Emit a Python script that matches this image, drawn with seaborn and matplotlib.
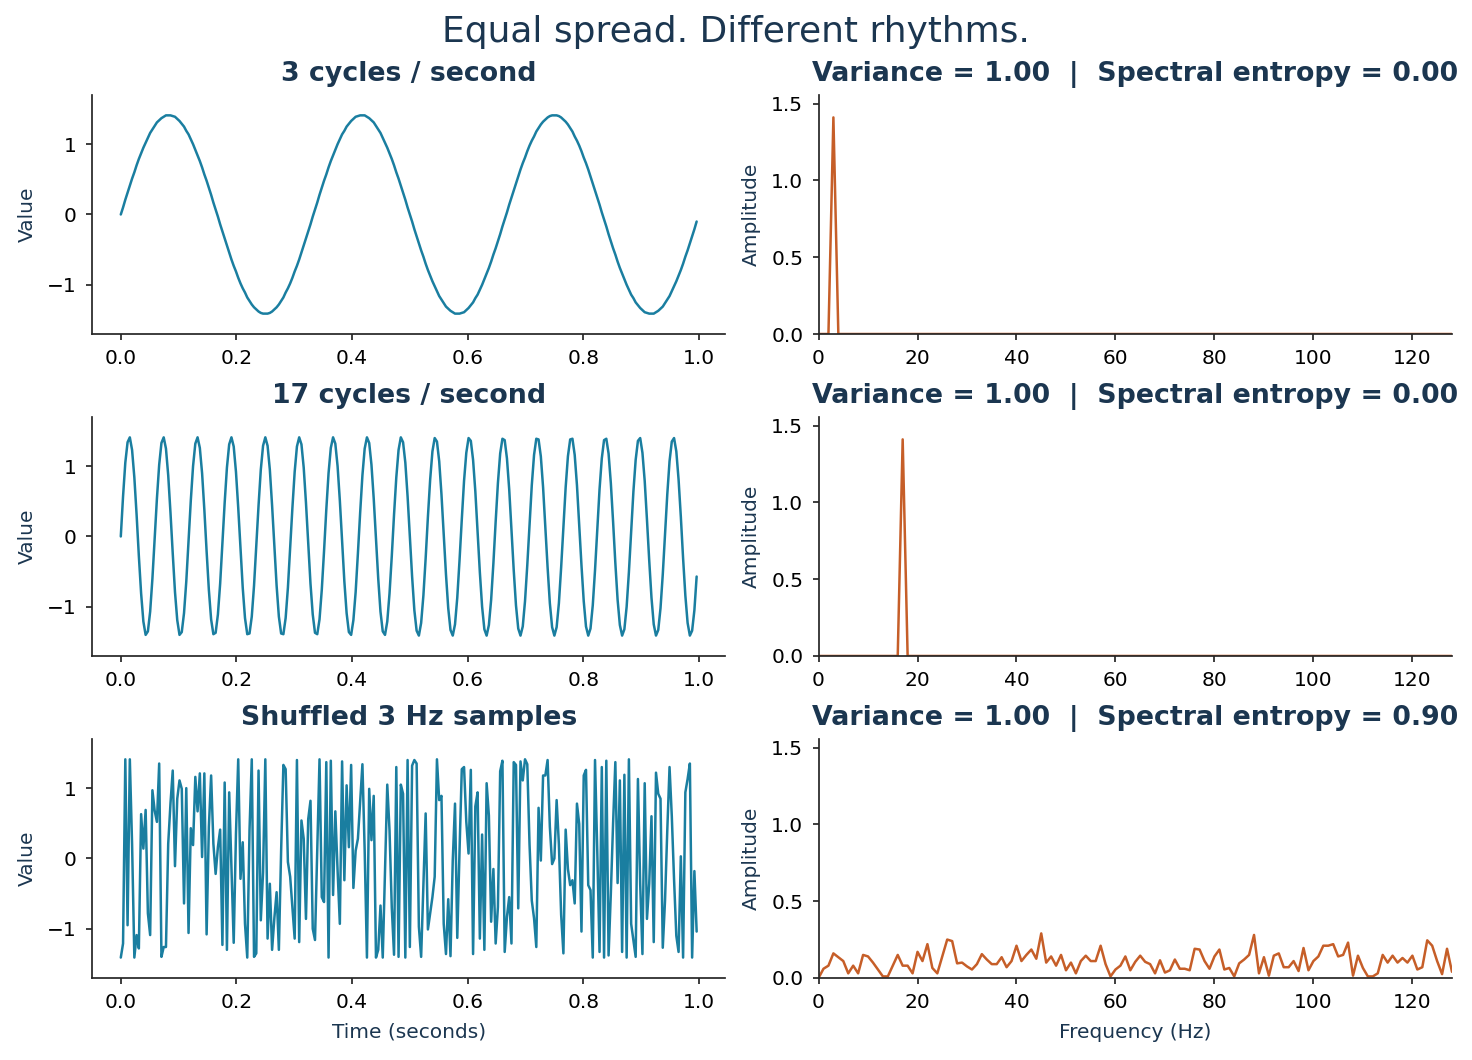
import numpy as np
import pandas as pd
import matplotlib
matplotlib.use("Agg")
import matplotlib.pyplot as plt
import seaborn as sns

# sampling: 256 samples over one second
sample_rate = 256

# 3 Hz sine, amplitude sqrt(2) (variance 1)
wave_3hz = [
    0.00, 0.10, 0.21, 0.31, 0.41, 0.51, 0.60, 0.70, 0.79, 0.87, 0.95, 1.02, 1.09, 1.16, 1.21, 1.26,
    1.31, 1.34, 1.37, 1.39, 1.41, 1.41, 1.41, 1.40, 1.39, 1.36, 1.33, 1.29, 1.25, 1.19, 1.14, 1.07,
    1.00, 0.92, 0.84, 0.76, 0.67, 0.57, 0.48, 0.38, 0.28, 0.17, 0.07, -0.03, -0.14, -0.24, -0.34, -0.44,
    -0.54, -0.64, -0.73, -0.81, -0.90, -0.98, -1.05, -1.11, -1.18, -1.23, -1.28, -1.32, -1.35, -1.38, -1.40, -1.41,
    -1.41, -1.41, -1.40, -1.38, -1.35, -1.32, -1.28, -1.23, -1.18, -1.11, -1.05, -0.98, -0.90, -0.81, -0.73, -0.64,
    -0.54, -0.44, -0.34, -0.24, -0.14, -0.03,
    0.07, 0.17, 0.28, 0.38, 0.48, 0.57, 0.67, 0.76, 0.84, 0.92, 1.00, 1.07, 1.14, 1.19, 1.25, 1.29,
    1.33, 1.36, 1.39, 1.40, 1.41, 1.41, 1.41, 1.39, 1.37, 1.34, 1.31, 1.26, 1.21, 1.16, 1.09, 1.02,
    0.95, 0.87, 0.79, 0.70, 0.60, 0.51, 0.41, 0.31, 0.21, 0.10, 0.00, -0.10, -0.21, -0.31, -0.41, -0.51,
    -0.60, -0.70, -0.79, -0.87, -0.95, -1.02, -1.09, -1.16, -1.21, -1.26, -1.31, -1.34, -1.37, -1.39, -1.41, -1.41,
    -1.41, -1.40, -1.39, -1.36, -1.33, -1.29, -1.25, -1.19, -1.14, -1.07, -1.00, -0.92, -0.84, -0.76, -0.67, -0.57,
    -0.48, -0.38, -0.28, -0.17, -0.07,
    0.03, 0.14, 0.24, 0.34, 0.44, 0.54, 0.64, 0.73, 0.81, 0.90, 0.98, 1.05, 1.11, 1.18, 1.23, 1.28,
    1.32, 1.35, 1.38, 1.40, 1.41, 1.41, 1.41, 1.40, 1.38, 1.35, 1.32, 1.28, 1.23, 1.18, 1.11, 1.05,
    0.98, 0.90, 0.81, 0.73, 0.64, 0.54, 0.44, 0.34, 0.24, 0.14, 0.03, -0.07, -0.17, -0.28, -0.38, -0.48,
    -0.57, -0.67, -0.76, -0.84, -0.92, -1.00, -1.07, -1.14, -1.19, -1.25, -1.29, -1.33, -1.36, -1.39, -1.40, -1.41,
    -1.41, -1.41, -1.39, -1.37, -1.34, -1.31, -1.26, -1.21, -1.16, -1.09, -1.02, -0.95, -0.87, -0.79, -0.70, -0.60,
    -0.51, -0.41, -0.31, -0.21, -0.10,
]

# 17 Hz sine, same amplitude
wave_17hz = [
    0.00, 0.57, 1.05, 1.34, 1.41, 1.23, 0.84, 0.31, -0.28, -0.81, -1.21, -1.40, -1.35, -1.07, -0.60,
    -0.03, 0.54, 1.02, 1.33, 1.41, 1.25, 0.87, 0.34, -0.24, -0.79, -1.19, -1.40, -1.36, -1.09, -0.64,
    -0.07, 0.51, 1.00, 1.32, 1.41, 1.26, 0.90, 0.38, -0.21, -0.76, -1.18, -1.39, -1.37, -1.11, -0.67,
    -0.10, 0.48, 0.98, 1.31, 1.41, 1.28, 0.92, 0.41, -0.17, -0.73, -1.16, -1.39, -1.38, -1.14, -0.70,
    -0.14, 0.44, 0.95, 1.29, 1.41, 1.29, 0.95, 0.44, -0.14, -0.70, -1.14, -1.38, -1.39, -1.16, -0.73,
    -0.17, 0.41, 0.92, 1.28, 1.41, 1.31, 0.98, 0.48, -0.10, -0.67, -1.11, -1.37, -1.39, -1.18, -0.76,
    -0.21, 0.38, 0.90, 1.26, 1.41, 1.32, 1.00, 0.51, -0.07, -0.64, -1.09, -1.36, -1.40, -1.19, -0.79,
    -0.24, 0.34, 0.87, 1.25, 1.41, 1.33, 1.02, 0.54, -0.03, -0.60, -1.07, -1.35, -1.40, -1.21, -0.81,
    -0.28, 0.31, 0.84, 1.23, 1.41, 1.34, 1.05, 0.57, 0.00, -0.57, -1.05, -1.34, -1.41, -1.23, -0.84,
    -0.31, 0.28, 0.81, 1.21, 1.40, 1.35, 1.07, 0.60, 0.03, -0.54, -1.02, -1.33, -1.41, -1.25, -0.87,
    -0.34, 0.24, 0.79, 1.19, 1.40, 1.36, 1.09, 0.64, 0.07, -0.51, -1.00, -1.32, -1.41, -1.26, -0.90,
    -0.38, 0.21, 0.76, 1.18, 1.39, 1.37, 1.11, 0.67, 0.10, -0.48, -0.98, -1.31, -1.41, -1.28, -0.92,
    -0.41, 0.17, 0.73, 1.16, 1.39, 1.38, 1.14, 0.70, 0.14, -0.44, -0.95, -1.29, -1.41, -1.29, -0.95,
    -0.44, 0.14, 0.70, 1.14, 1.38, 1.39, 1.16, 0.73, 0.17, -0.41, -0.92, -1.28, -1.41, -1.31, -0.98,
    -0.48, 0.10, 0.67, 1.11, 1.37, 1.39, 1.18, 0.76, 0.21, -0.38, -0.90, -1.26, -1.41, -1.32, -1.00,
    -0.51, 0.07, 0.64, 1.09, 1.36, 1.40, 1.19, 0.79, 0.24, -0.34, -0.87, -1.25, -1.41, -1.33, -1.02,
    -0.54, 0.03, 0.60, 1.07, 1.35, 1.40, 1.21, 0.81, 0.28, -0.31, -0.84, -1.23, -1.41, -1.34, -1.05,
    -0.57,
]

# the 3 Hz samples in shuffled order
wave_shuffled = [
    -1.41, -1.21, 1.41, -0.95, 1.41, 0.20, -1.41, -1.09, -1.28, 0.63, 0.14, 0.69, -0.78, -1.09, 0.97, 0.68,
    0.52, 1.35, -1.40, -1.26, -1.26, 0.21, 0.78, 1.25, -0.11, 0.85, 1.11, 0.99, -0.64, 1.00, -1.06, 0.43,
    0.19, 1.16, 0.67, 1.21, 0.02, 1.21, -1.08, 0.45, 1.18, 0.21, -0.22, 0.16, 0.41, -1.23, 1.08, -1.30,
    0.94, -0.12, -1.20, 0.35, 1.41, -0.29, 0.23, -0.93, -1.41, 0.40, 1.41, -1.40, -1.35, 1.25, -0.88, -0.20,
    1.41, -1.14, -0.36, -1.30, -0.85, -0.48, -1.30, 0.11, 1.33, 1.27, -0.05, -0.26, -0.69, -1.14, 1.40, -1.19,
    0.54, 0.28, -0.86, 0.56, 0.82, -1.00, -1.16, 0.11, 1.41, -0.55, -0.62, 1.37, -1.41, 1.39, -0.52, 0.67,
    -0.17, -0.93, 1.38, -0.31, 1.04, 0.16, 1.33, -0.42, 0.11, 0.28, 0.82, 1.34, 0.11, -1.41, 0.99, 0.26,
    0.89, -1.41, -1.30, -0.67, -1.41, -0.17, 1.05, 0.40, -0.70, -1.37, 1.30, -1.40, 1.05, 0.92, -1.41, 1.40,
    -1.26, 1.32, 1.40, 1.35, -0.97, -1.40, -0.36, 0.64, -1.01, -0.78, -0.55, -0.26, 1.41, 0.83, 0.89, -0.93,
    -1.36, -0.58, -1.39, -0.03, 0.78, -1.13, 0.11, 1.27, 1.30, 0.52, 0.07, 1.26, -1.36, 0.74, 0.94, -1.14,
    0.34, -1.30, 1.07, 0.61, -0.90, -0.15, -1.21, -0.69, 1.24, 1.39, -1.33, -0.83, -0.55, -1.21, 1.37, 1.33,
    -0.71, 1.38, 1.11, 1.41, 1.34, 0.20, -0.60, -0.85, -1.26, 0.72, -0.03, 1.18, 1.18, 1.40, 0.45, -0.08,
    0.00, 0.83, 0.20, -0.80, -1.35, 0.41, -0.15, -0.38, -0.31, -0.64, 0.78, 0.49, -1.04, 1.18, 1.26, -0.38,
    -0.45, -1.41, 1.40, 0.10, -1.33, 1.30, -1.41, 1.39, -1.38, -0.50, 0.50, 1.37, -0.35, 1.11, -1.33, 1.19,
    -1.41, 1.41, -0.93, -1.16, -1.40, 1.13, -0.36, -1.36, 1.07, -0.86, -0.36, 0.60, -1.19, 1.22, 0.92, 0.85,
    -1.27, -0.60, 0.40, 1.30, 0.60, -0.30, -1.10, -1.33, 0.03, -1.41, 0.94, 1.13, 1.35, -1.41, -0.18, -1.04,
]

# amplitude spectra, 0..128 Hz in 1 Hz bins
spec_3hz = [
    0, 0, 0, 1.41, 0, 0, 0, 0, 0, 0, 0, 0, 0, 0, 0, 0,
    0, 0, 0, 0, 0, 0, 0, 0, 0, 0, 0, 0, 0, 0, 0, 0,
    0, 0, 0, 0, 0, 0, 0, 0, 0, 0, 0, 0, 0, 0, 0, 0,
    0, 0, 0, 0, 0, 0, 0, 0, 0, 0, 0, 0, 0, 0, 0, 0,
    0, 0, 0, 0, 0, 0, 0, 0, 0, 0, 0, 0, 0, 0, 0, 0,
    0, 0, 0, 0, 0, 0, 0, 0, 0, 0, 0, 0, 0, 0, 0, 0,
    0, 0, 0, 0, 0, 0, 0, 0, 0, 0, 0, 0, 0, 0, 0, 0,
    0, 0, 0, 0, 0, 0, 0, 0, 0, 0, 0, 0, 0, 0, 0, 0,
    0,
]
spec_17hz = [
    0, 0, 0, 0, 0, 0, 0, 0, 0, 0, 0, 0, 0, 0, 0, 0,
    0, 1.41, 0, 0, 0, 0, 0, 0, 0, 0, 0, 0, 0, 0, 0, 0,
    0, 0, 0, 0, 0, 0, 0, 0, 0, 0, 0, 0, 0, 0, 0, 0,
    0, 0, 0, 0, 0, 0, 0, 0, 0, 0, 0, 0, 0, 0, 0, 0,
    0, 0, 0, 0, 0, 0, 0, 0, 0, 0, 0, 0, 0, 0, 0, 0,
    0, 0, 0, 0, 0, 0, 0, 0, 0, 0, 0, 0, 0, 0, 0, 0,
    0, 0, 0, 0, 0, 0, 0, 0, 0, 0, 0, 0, 0, 0, 0, 0,
    0, 0, 0, 0, 0, 0, 0, 0, 0, 0, 0, 0, 0, 0, 0, 0,
    0,
]
spec_shuffled = [
    0.00, 0.06, 0.08, 0.16, 0.135, 0.11, 0.03, 0.08, 0.03, 0.15, 0.14, 0.10, 0.055, 0.01, 0.01, 0.08,
    0.15, 0.08, 0.08, 0.03, 0.17, 0.11, 0.22, 0.065, 0.03, 0.14, 0.25, 0.24, 0.095, 0.10, 0.075, 0.055,
    0.09, 0.155, 0.12, 0.09, 0.09, 0.135, 0.07, 0.11, 0.21, 0.11, 0.15, 0.185, 0.125, 0.29, 0.10, 0.14,
    0.08, 0.15, 0.05, 0.10, 0.03, 0.11, 0.145, 0.11, 0.11, 0.21, 0.09, 0.01, 0.055, 0.08, 0.14, 0.05,
    0.105, 0.145, 0.105, 0.09, 0.03, 0.115, 0.035, 0.05, 0.12, 0.06, 0.06, 0.05, 0.19, 0.185, 0.11, 0.06,
    0.14, 0.185, 0.055, 0.065, 0.01, 0.095, 0.12, 0.15, 0.28, 0.03, 0.135, 0.015, 0.145, 0.16, 0.07, 0.07,
    0.11, 0.045, 0.195, 0.05, 0.11, 0.14, 0.21, 0.21, 0.22, 0.14, 0.15, 0.23, 0.015, 0.145, 0.065, 0.01,
    0.01, 0.03, 0.15, 0.10, 0.145, 0.10, 0.13, 0.10, 0.145, 0.055, 0.07, 0.245, 0.21, 0.11, 0.025, 0.19,
    0.04,
]

row_titles = ["3 cycles / second", "17 cycles / second", "Shuffled 3 Hz samples"]
variances = [1.00, 1.00, 1.00]
entropies = [0.00, 0.00, 0.90]

blue = "#1a7ea0"
orange = "#c65e28"
navy = "#1b3650"

sns.set_style("ticks")
plt.rcParams["font.family"] = ["DejaVu Sans"]
plt.rcParams["axes.edgecolor"] = "#262626"
plt.rcParams["xtick.color"] = "#262626"
plt.rcParams["ytick.color"] = "#262626"
plt.rcParams["xtick.labelcolor"] = "black"
plt.rcParams["ytick.labelcolor"] = "black"

t = np.arange(sample_rate) / sample_rate
freqs = np.arange(sample_rate // 2 + 1)

waves = [wave_3hz, wave_17hz, wave_shuffled]
spectra = [spec_3hz, spec_17hz, spec_shuffled]

fig, axes = plt.subplots(3, 2, figsize=(14.72, 10.6), dpi=100)
fig.subplots_adjust(left=0.0625, right=0.9864, top=0.9104, bottom=0.0774,
                    wspace=0.147, hspace=0.347)

title_kw = dict(fontsize=19.3, fontweight="bold", color=navy, pad=10)
label_kw = dict(fontsize=14.5, color=navy, labelpad=7.5)

for i in range(3):
    ax = axes[i, 0]
    df = pd.DataFrame({"t": t, "v": waves[i]})
    sns.lineplot(data=df, x="t", y="v", ax=ax, color=blue, linewidth=1.8)
    ax.set_ylim(-1.7, 1.7)
    ax.set_xticks([0.0, 0.2, 0.4, 0.6, 0.8, 1.0])
    ax.set_yticks([-1, 0, 1])
    ax.set_title(row_titles[i], **title_kw)
    ax.set_ylabel("Value", **label_kw)
    ax.set_xlabel("Time (seconds)" if i == 2 else "", **label_kw)

    ax = axes[i, 1]
    sf = pd.DataFrame({"f": freqs, "a": spectra[i]})
    sns.lineplot(data=sf, x="f", y="a", ax=ax, color=orange, linewidth=1.8)
    ax.set_xlim(0, 128)
    ax.set_ylim(0, 1.556)
    ax.set_xticks([0, 20, 40, 60, 80, 100, 120])
    ax.set_yticks([0.0, 0.5, 1.0, 1.5])
    ax.set_title(f"Variance = {variances[i]:.2f}  |  Spectral entropy = {entropies[i]:.2f}", **title_kw)
    ax.set_ylabel("Amplitude", **label_kw)
    ax.set_xlabel("Frequency (Hz)" if i == 2 else "", **label_kw)

for ax in axes.flat:
    ax.tick_params(labelsize=14.5, length=4, width=1.25, pad=7)
    for s in ax.spines.values():
        s.set_linewidth(1.25)
sns.despine(fig=fig)

fig.suptitle("Equal spread. Different rhythms.", fontsize=25.9, color=navy, y=0.986)

fig.savefig("out.png", dpi=100)
